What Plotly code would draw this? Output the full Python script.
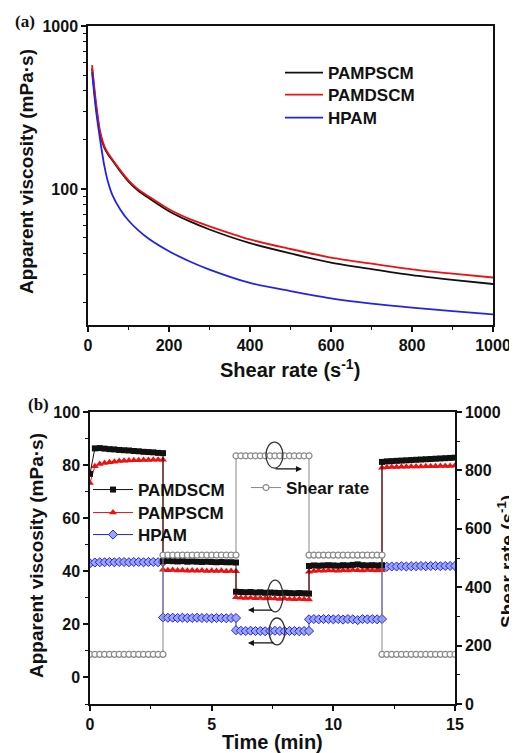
import plotly.graph_objects as go

# ---------------- (a) flow curves ----------------
shear_rate = [10, 20, 30, 40, 50, 60, 80, 100, 125, 150, 200, 250, 300, 400, 500, 600, 700, 800, 900, 1000]
visc_pampscm = [550, 320, 218, 180, 162, 150, 128, 111, 97, 88, 73, 63.4, 56.4, 46.5, 40.2, 35.3, 32.2, 29.6, 27.7, 26.1]
visc_pamdscm = [575, 335, 225, 184, 165, 152, 130, 113, 99, 90, 75, 65.5, 59, 49, 42.8, 37.9, 34.8, 32.1, 30.2, 28.6]
visc_hpam = [520, 300, 200, 140, 109, 92, 74.6, 64, 55.5, 49.5, 41.5, 36, 32, 26.5, 23.6, 21.3, 19.8, 18.7, 17.8, 17.0]

# ---------------- (b) step shear test ----------------
time_min = [
    0.0, 0.2, 0.4, 0.6, 0.8, 1.0, 1.2, 1.4, 1.6, 1.8, 2.0, 2.2, 2.4, 2.6, 2.8, 3.0,
    3.0, 3.2, 3.4, 3.6, 3.8, 4.0, 4.2, 4.4, 4.6, 4.8, 5.0, 5.2, 5.4, 5.6, 5.8, 6.0,
    6.0, 6.2, 6.4, 6.6, 6.8, 7.0, 7.2, 7.4, 7.6, 7.8, 8.0, 8.2, 8.4, 8.6, 8.8, 9.0,
    9.0, 9.2, 9.4, 9.6, 9.8, 10.0, 10.2, 10.4, 10.6, 10.8, 11.0, 11.2, 11.4, 11.6, 11.8, 12.0,
    12.0, 12.2, 12.4, 12.6, 12.8, 13.0, 13.2, 13.4, 13.6, 13.8, 14.0, 14.2, 14.4, 14.6, 14.8, 15.0,
]
b_pamdscm = [
    76.7, 86.3, 86.4, 86.2, 86.0, 85.9, 85.7, 85.6, 85.5, 85.3, 85.2, 85.0, 84.9, 84.8, 84.6, 84.5,
    43.8, 43.9, 43.8, 43.7, 43.8, 43.6, 43.7, 43.6, 43.5, 43.6, 43.5, 43.4, 43.5, 43.4, 43.4, 43.3,
    32.3, 32.2, 32.1, 32.2, 32.0, 32.1, 31.9, 32.0, 31.9, 31.8, 31.9, 31.8, 31.7, 31.8, 31.7, 31.6,
    42.0, 42.2, 42.1, 42.2, 42.3, 42.2, 42.1, 42.3, 42.2, 42.4, 42.6, 42.3, 42.2, 42.3, 42.2, 42.3,
    81.2, 81.4, 81.5, 81.6, 81.7, 81.8, 81.9, 82.0, 82.1, 82.2, 82.3, 82.4, 82.5, 82.6, 82.7, 82.8,
]
b_pampscm = [
    73.3, 79.6, 80.4, 80.8, 81.1, 81.3, 81.5, 81.6, 81.7, 81.8, 81.8, 81.9, 81.9, 82.0, 82.0, 82.0,
    40.6, 40.4, 40.5, 40.3, 40.4, 40.2, 40.3, 40.2, 40.3, 40.1, 40.2, 40.1, 40.2, 40.0, 40.1, 40.0,
    30.2, 30.0, 29.9, 30.0, 29.8, 29.9, 29.7, 29.8, 29.7, 29.6, 29.7, 29.6, 29.5, 29.6, 29.5, 29.4,
    39.8, 40.1, 40.3, 40.2, 40.4, 40.3, 40.2, 40.4, 40.3, 40.5, 40.4, 40.3, 40.5, 40.4, 40.3, 40.4,
    79.0, 79.2, 79.3, 79.3, 79.4, 79.4, 79.5, 79.5, 79.5, 79.6, 79.6, 79.6, 79.7, 79.7, 79.7, 79.8,
]
b_hpam = [
    43.0, 43.3, 43.4, 43.4, 43.5, 43.4, 43.5, 43.5, 43.4, 43.5, 43.5, 43.4, 43.5, 43.5, 43.4, 43.5,
    22.6, 22.5, 22.5, 22.4, 22.5, 22.4, 22.4, 22.5, 22.4, 22.4, 22.3, 22.4, 22.4, 22.3, 22.4, 22.4,
    17.8, 17.6, 17.5, 17.6, 17.5, 17.5, 17.4, 17.5, 17.6, 17.5, 17.4, 17.5, 17.5, 17.4, 17.5, 17.5,
    21.9, 22.0, 21.9, 22.0, 22.0, 21.9, 22.0, 21.8, 22.0, 21.9, 21.6, 22.0, 21.9, 22.0, 21.9, 22.0,
    41.5, 41.7, 41.8, 41.8, 41.9, 41.8, 41.9, 41.9, 42.0, 41.9, 42.0, 42.0, 41.9, 42.0, 42.0, 42.0,
]
b_shear = [
    170, 170, 170, 170, 170, 170, 170, 170, 170, 170, 170, 170, 170, 170, 170, 170,
    510, 510, 510, 510, 510, 510, 510, 510, 510, 510, 510, 510, 510, 510, 510, 510,
    850, 850, 850, 850, 850, 850, 850, 850, 850, 850, 850, 850, 850, 850, 850, 850,
    510, 510, 510, 510, 510, 510, 510, 510, 510, 510, 510, 510, 510, 510, 510, 510,
    170, 170, 170, 170, 170, 170, 170, 170, 170, 170, 170, 170, 170, 170, 170, 170,
]

# ticks
a_xticks = [0, 200, 400, 600, 800, 1000]
a_yticks = [100, 1000]
b_xticks = [0, 5, 10, 15]
b_yticks = [0, 20, 40, 60, 80, 100]
b_y2ticks = [0, 200, 400, 600, 800, 1000]

# the page body has an 8px margin, so the figure is drawn 8px smaller and coordinates are shifted
OFF = 8
W, H = 517 - OFF, 753 - OFF
SANS = "Liberation Sans, Arial, sans-serif"
SERIF = "Liberation Serif, Times New Roman, serif"
BLACK = "#111111"
RED = "#ee1111"
BLUE = "#2222ee"
GRAY = "#888888"


def px_x(p):
    return (p - OFF) / W


def px_y(p):
    return 1 - (p - OFF) / H


def bold(vals):
    return ["<b>%s</b>" % v for v in vals]


fig = go.Figure()

# panel (a) - one legend per entry so the rows sit where the original has them
fig.add_trace(go.Scatter(x=shear_rate, y=visc_pampscm, name="PAMPSCM", mode="lines",
                         line=dict(color=BLACK, width=1.8, shape="spline", smoothing=0.8),
                         xaxis="x", yaxis="y", legend="legend"))
fig.add_trace(go.Scatter(x=shear_rate, y=visc_pamdscm, name="PAMDSCM", mode="lines",
                         line=dict(color=RED, width=1.8, shape="spline", smoothing=0.8),
                         xaxis="x", yaxis="y", legend="legend2"))
fig.add_trace(go.Scatter(x=shear_rate, y=visc_hpam, name="HPAM", mode="lines",
                         line=dict(color=BLUE, width=1.8, shape="spline", smoothing=0.8),
                         xaxis="x", yaxis="y", legend="legend3"))

# panel (b)
fig.add_trace(go.Scatter(x=time_min, y=b_shear, name="Shear rate", mode="lines+markers",
                         line=dict(color=GRAY, width=1),
                         marker=dict(symbol="circle", size=6, color="white", line=dict(color=GRAY, width=1.2)),
                         xaxis="x2", yaxis="y3", legend="legend7"))
fig.add_trace(go.Scatter(x=time_min, y=b_hpam, name="HPAM", mode="lines+markers",
                         line=dict(color=BLUE, width=1),
                         marker=dict(symbol="diamond", size=7, color="#9aa6f5", line=dict(color=BLUE, width=1)),
                         xaxis="x2", yaxis="y2", legend="legend6"))
fig.add_trace(go.Scatter(x=time_min, y=b_pampscm, name="PAMPSCM", mode="lines+markers",
                         line=dict(color=RED, width=1),
                         marker=dict(symbol="triangle-up", size=7, color=RED),
                         xaxis="x2", yaxis="y2", legend="legend5"))
fig.add_trace(go.Scatter(x=time_min, y=b_pamdscm, name="PAMDSCM", mode="lines+markers",
                         line=dict(color=BLACK, width=1),
                         marker=dict(symbol="square", size=6, color=BLACK),
                         xaxis="x2", yaxis="y2", legend="legend4"))

tickfont = dict(family=SANS, size=16, color=BLACK, weight="bold")
common = dict(showline=True, linecolor=BLACK, linewidth=1.5, ticks="outside", ticklen=5, tickwidth=1.5,
              tickcolor=BLACK, tickfont=tickfont, showgrid=False, zeroline=False, automargin=False,
              tickmode="array")
minor = dict(ticks="outside", ticklen=3, tickwidth=1.2, tickcolor=BLACK)
legfont = dict(family=SANS, size=17, color=BLACK, weight="bold")


def leg(x, y, width):
    return dict(x=px_x(x), y=px_y(y), xanchor="left", yanchor="middle", bgcolor="rgba(0,0,0,0)",
                font=legfont, itemwidth=width)


fig.update_layout(
    width=W, height=H, margin=dict(l=0, r=0, t=0, b=0),
    paper_bgcolor="white", plot_bgcolor="white", showlegend=True,
    xaxis=dict(domain=[px_x(88), px_x(493)], range=[0, 1000], tickvals=a_xticks, ticktext=bold(a_xticks),
               minor=dict(tickvals=[100, 300, 500, 700, 900], **minor),
               mirror=True, anchor="y", **common),
    yaxis=dict(domain=[px_y(325), px_y(26)], type="log", range=[1.165, 3], tickvals=a_yticks,
               ticktext=bold(a_yticks),
               minor=dict(tickvals=[20, 30, 40, 50, 60, 70, 80, 90, 200, 300, 400, 500, 600, 700, 800, 900],
                          **minor),
               mirror=True, anchor="x", **common),
    xaxis2=dict(domain=[px_x(90), px_x(455)], range=[0, 15], tickvals=b_xticks, ticktext=bold(b_xticks),
                minor=dict(tickvals=[2.5, 7.5, 12.5], **minor),
                mirror=True, anchor="y2", **common),
    yaxis2=dict(domain=[px_y(704), px_y(412)], range=[-10, 100], tickvals=b_yticks, ticktext=bold(b_yticks),
                minor=dict(tickvals=[-10, 10, 30, 50, 70, 90], **minor),
                anchor="x2", **common),
    yaxis3=dict(domain=[px_y(704), px_y(412)], range=[0, 1000], tickvals=b_y2ticks, ticktext=bold(b_y2ticks),
                minor=dict(tickvals=[100, 300, 500, 700, 900], **minor),
                overlaying="y2", side="right", anchor="x2", **common),
    legend=leg(280, 73, 38),
    legend2=leg(280, 95, 38),
    legend3=leg(280, 118, 38),
    legend4=leg(88, 490, 40),
    legend5=leg(88, 513, 40),
    legend6=leg(88, 535, 40),
    legend7=leg(246, 488, 30),
)

title_font = dict(family=SANS, size=19, color=BLACK, weight="bold")
annotations = [
    dict(text="(a)", x=px_x(13), y=px_y(21), xanchor="left", yanchor="middle",
         font=dict(family=SERIF, size=17, color=BLACK, weight="bold")),
    dict(text="(b)", x=px_x(26), y=px_y(404), xanchor="left", yanchor="middle",
         font=dict(family=SERIF, size=17, color=BLACK, weight="bold")),
    dict(text="Apparent viscosity (mPa·s)", x=px_x(26), y=px_y(172), textangle=-90,
         xanchor="center", yanchor="middle", font=title_font),
    dict(text="Shear rate (s<sup>-1</sup>)", x=px_x(290), y=px_y(368), xanchor="center", yanchor="middle",
         font=dict(family=SANS, size=20, color=BLACK, weight="bold")),
    dict(text="Apparent viscosity (mPa·s)", x=px_x(36), y=px_y(556), textangle=-90,
         xanchor="center", yanchor="middle", font=title_font),
    dict(text="Time (min)", x=px_x(272), y=px_y(742), xanchor="center", yanchor="middle",
         font=dict(family=SANS, size=20, color=BLACK, weight="bold")),
    dict(text="Shear rate (s<sup>-1</sup>)", x=px_x(506), y=px_y(562), textangle=-90,
         xanchor="center", yanchor="middle", font=title_font),
]
for a in annotations:
    a.update(xref="paper", yref="paper", showarrow=False)

# arrows pointing to the relevant axis
arrow_style = dict(showarrow=True, arrowhead=2, arrowsize=1, arrowwidth=1.2, arrowcolor=BLACK, text="")
annotations += [
    dict(x=8.71, y=805, ax=7.56, ay=805, xref="x2", yref="y3", axref="x2", ayref="y3", **arrow_style),
    dict(x=6.49, y=25.4, ax=7.55, ay=25.4, xref="x2", yref="y2", axref="x2", ayref="y2", **arrow_style),
    dict(x=6.49, y=13.0, ax=7.6, ay=13.0, xref="x2", yref="y2", axref="x2", ayref="y2", **arrow_style),
]
fig.update_layout(annotations=annotations)

ell = dict(type="circle", line=dict(color="#333333", width=1.3), fillcolor="rgba(0,0,0,0)")
fig.add_shape(xref="x2", yref="y3", x0=7.23, x1=7.93, y0=808, y1=897, **ell)
fig.add_shape(xref="x2", yref="y2", x0=7.29, x1=7.93, y0=24.7, y1=36.7, **ell)
fig.add_shape(xref="x2", yref="y2", x0=7.36, x1=8.01, y0=12.3, y1=22.4, **ell)

fig.write_html("out.html")
